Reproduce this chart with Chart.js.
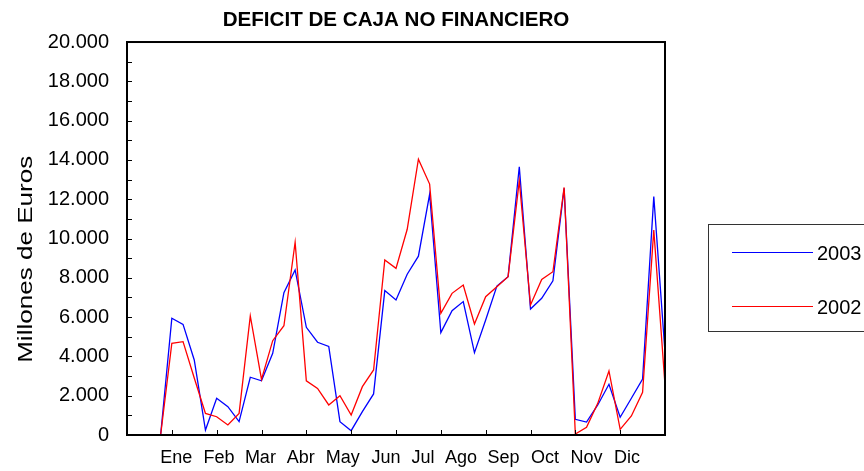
<!DOCTYPE html>
<html lang="es">
<head>
<meta charset="UTF-8">
<title>Deficit de caja no financiero</title>
<script src="https://cdn.jsdelivr.net/npm/chart.js"></script>
<style>
  html, body { margin: 0; padding: 0; background: #fff; overflow: hidden; }
  .wrap { position: relative; width: 864px; height: 471px; }
  #legend { position: absolute; left: 708px; top: 224px; width: 200px; height: 108px; border: 1px solid #333; box-sizing: border-box;
            font: 20px "Liberation Sans", Arial, sans-serif; color: #000; }
  .item { position: absolute; left: 23px; height: 24px; }
  .item i { position: absolute; left: 0; top: 11px; width: 81px; height: 1px; }
  .item span { position: absolute; left: 85px; top: 0; line-height: 24px; }
</style>
</head>
<body>
<div class="wrap">
  <canvas id="c" width="864" height="471"></canvas>
  <div id="legend"></div>
</div>
<script>
  // meses (etiquetas del eje X) y su posicion en semanas
  const months = ['Ene','Feb','Mar','Abr','May','Jun','Jul','Ago','Sep','Oct','Nov','Dic'];
  const monthLabelAt = [1.4, 5.2, 8.9, 12.5, 16.25, 20.1, 23.4, 26.8, 30.6, 34.3, 38.0, 41.6];
  const monthTicks = [1, 5, 9, 13, 17, 21, 25, 29, 33, 37, 41, 45];

  // millones de euros, semana a semana
  const y2003 = [0, 5940, 5630, 3820, 250, 1870, 1440, 680, 2940, 2760, 4160, 7240,
    8400, 5480, 4720, 4510, 680, 220, 1190, 2090, 7350, 6870, 8180, 9100,
    12250, 5210, 6330, 6790, 4190, 5850, 7580, 8060, 13650, 6410, 6960, 7850,
    12550, 800, 660, 1530, 2580, 900, 1870, 2850, 12130, 4200];
  const y2002 = [0, 4670, 4750, 2900, 1100, 930, 510, 1100, 6060, 2830, 4800, 5560,
    9810, 2760, 2370, 1530, 2000, 1020, 2460, 3310, 8910, 8480, 10470, 14040,
    12770, 6190, 7210, 7630, 5650, 7040, 7550, 8060, 12940, 6620, 7920, 8310,
    12600, 50, 390, 1610, 3260, 290, 970, 2170, 10430, 2550];

  const yTicks = [0, 2000, 4000, 6000, 8000, 10000, 12000, 14000, 16000, 18000, 20000];
  const Y_TITLE = 'Millones de Euros';

  const FONT = '"Liberation Sans", Arial, sans-serif';
  const fmt = v => String(v).replace(/\B(?=(\d{3})+(?!\d))/g, '.');
  const pts = arr => arr.map((v, i) => ({ x: i, y: v }));

  // marco del grafico + marcas interiores
  const frame = {
    id: 'frame',
    afterDraw(chart) {
      const { ctx, chartArea: a, scales: { x, y } } = chart;
      ctx.save();
      ctx.strokeStyle = '#000';
      ctx.lineWidth = 1;
      ctx.beginPath();
      for (let v = 0; v <= 20000; v += 1000) {
        const py = Math.round(y.getPixelForValue(v)) + 0.5;
        ctx.moveTo(a.left, py); ctx.lineTo(a.left + 5, py);
      }
      monthTicks.forEach(t => {
        const px = Math.round(x.getPixelForValue(t)) + 0.5;
        ctx.moveTo(px, a.bottom); ctx.lineTo(px, a.bottom - 5);
      });
      ctx.stroke();
      ctx.lineWidth = 2;
      ctx.strokeRect(a.left, a.top, a.width, a.height);

      // titulo del eje Y (algo mas largo y mas abajo que el centrado de Chart.js)
      ctx.translate(26, a.top + a.height * 0.553);
      ctx.rotate(-Math.PI / 2);
      ctx.font = '21px ' + FONT;
      ctx.scale(207 / ctx.measureText(Y_TITLE).width, 1);
      ctx.fillStyle = '#000';
      ctx.textAlign = 'center';
      ctx.textBaseline = 'middle';
      ctx.fillText(Y_TITLE, 0, 0);
      ctx.restore();
    }
  };

  const chart = new Chart(document.getElementById('c'), {
    type: 'line',
    data: {
      datasets: [
        { label: '2003', data: pts(y2003), borderColor: '#0000ff', borderWidth: 1.3, pointRadius: 0, order: 2, tension: 0 },
        { label: '2002', data: pts(y2002), borderColor: '#ff0000', borderWidth: 1.3, pointRadius: 0, order: 1, tension: 0 }
      ]
    },
    options: {
      responsive: false,
      animation: false,
      layout: { padding: { left: 0, right: 199, top: 0, bottom: 0 } },
      plugins: {
        legend: { display: false },
        tooltip: { enabled: false },
        title: {
          display: true, fullSize: false,
          text: 'DEFICIT DE CAJA NO FINANCIERO',
          color: '#000',
          font: { family: FONT, size: 20.6, weight: 'bold', lineHeight: 1.2 },
          padding: { top: 8, bottom: 9.3 }
        }
      },
      scales: {
        x: {
          type: 'linear', min: -3, max: 45,
          grid: { display: false, drawTicks: false },
          border: { display: false },
          ticks: { display: false },
          afterBuildTicks: s => { s.ticks = monthTicks.map(v => ({ value: v })); },
          afterFit: s => { s.height = 0; }
        },
        x2: {
          type: 'linear', position: 'bottom', min: -3, max: 45,
          grid: { display: false, drawTicks: false },
          border: { display: false },
          afterBuildTicks: s => { s.ticks = monthLabelAt.map(v => ({ value: v })); },
          afterFit: s => { s.height = 36; },
          ticks: {
            autoSkip: false, maxRotation: 0, padding: 12, color: '#000',
            font: { family: FONT, size: 18 },
            callback: (v, i) => months[i]
          }
        },
        y: {
          min: 0, max: 20000,
          grid: { display: false, drawTicks: false },
          border: { display: false },
          afterBuildTicks: s => { s.ticks = yTicks.map(v => ({ value: v })); },
          afterFit: s => { s.width = 127; },
          ticks: { padding: 18, color: '#000', font: { family: FONT, size: 20 }, callback: v => fmt(v) },
          title: { display: false, text: Y_TITLE }
        }
      }
    },
    plugins: [frame]
  });

  // leyenda en HTML, a partir de las series
  const legend = document.getElementById('legend');
  chart.data.datasets.forEach((d, k) => {
    const it = document.createElement('div');
    it.className = 'item';
    it.style.top = (16 + k * 54) + 'px';
    it.innerHTML = '<i style="background:' + d.borderColor + '"></i><span>' + d.label + '</span>';
    legend.appendChild(it);
  });
</script>
</body>
</html>
